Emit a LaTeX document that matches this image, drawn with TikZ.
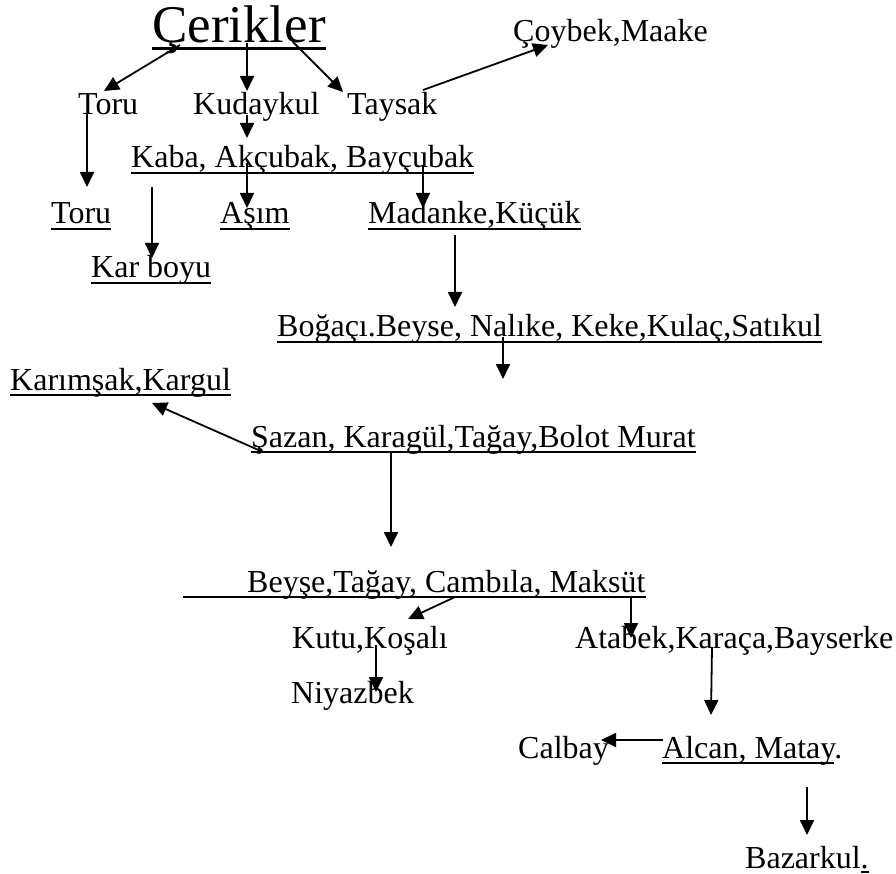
\documentclass[tikz,border=0pt]{standalone}
\usepackage{fontspec}
\setmainfont{Liberation Serif}
\usetikzlibrary{arrows.meta}
\begin{document}
\begin{tikzpicture}[x=1pt,y=-1pt,
  lbl/.style={anchor=base west,inner sep=0pt,font=\fontsize{32}{38}\selectfont},
  ttl/.style={anchor=base west,inner sep=0pt,font=\fontsize{53}{60}\selectfont},
  arr/.style={line width=1.8pt,-{Triangle[length=15pt,width=14pt]}},
  ul/.style={line width=2pt},
  ulw/.style={line width=3pt}]
\useasboundingbox (0,0) rectangle (896,874);

% nodes
\node[ttl] (cer) at (152,43) {Çerikler};
\node[lbl] (coy) at (513,42) {Çoybek,Maake};
\node[lbl] (toru1) at (78,115) {Toru};
\node[lbl] (kud) at (193,115) {Kudaykul};
\node[lbl] (tay) at (347,115) {Taysak};
\node[lbl] (kaba) at (131,168) {Kaba, Akçubak, Bayçubak};
\node[lbl] (toru2) at (51,224) {Toru};
\node[lbl] (asim) at (220,224) {Aşım};
\node[lbl] (mad) at (368,224) {Madanke,Küçük};
\node[lbl] (kar) at (91,278) {Kar boyu};
\node[lbl] (bog) at (277,337) {Boğaçı.Beyse, Nalıke, Keke,Kulaç,Satıkul};
\node[lbl] (karim) at (10,390) {Karımşak,Kargul};
\node[lbl] (saz) at (251,447) {Şazan, Karagül,Tağay,Bolot Murat};
\node[lbl] (bey) at (247,592) {Beyşe,Tağay, Cambıla, Maksüt};
\node[lbl] (kutu) at (292,648) {Kutu,Koşalı};
\node[lbl] (ata) at (575,648) {Atabek,Karaça,Bayserke};
\node[lbl] (niy) at (291,703) {Niyazbek};
\node[lbl] (cal) at (518,758) {Calbay};
\node[lbl] (alc) at (662,758) {Alcan, Matay.};
\node[lbl] (baz) at (745,868) {Bazarkul.};

% underlines
\draw[ulw] ([yshift=-6pt]cer.base west) -- ([yshift=-6pt]cer.base east);
\foreach \n in {kaba,toru2,asim,mad,kar,bog,karim,saz}
  \draw[ul] ([yshift=-5pt]\n.base west) -- ([yshift=-5pt]\n.base east);
\coordinate (beyul) at (183,597);
\draw[ul] (beyul) -- ([yshift=-5pt]bey.base east);
\draw[ul] ([yshift=-5pt]alc.base west) -- ([xshift=-8pt,yshift=-5pt]alc.base east);
\draw[ul] ([xshift=-8pt,yshift=-4pt]baz.base east) -- ([yshift=-4pt]baz.base east);

% arrow end points
\coordinate (s1) at (180,45);  \coordinate (e1) at (104,91);
\coordinate (s2) at (247,43);  \coordinate (e2) at (247,91);
\coordinate (s3) at (293,42);  \coordinate (e3) at (343,92);
\coordinate (s4) at (423,90);  \coordinate (e4) at (548,45);
\coordinate (s5) at (87,113);  \coordinate (e5) at (87,187);
\coordinate (s6) at (247,115); \coordinate (e6) at (247,138);
\coordinate (s7) at (247,163); \coordinate (e7) at (247,208);
\coordinate (s8) at (423,165); \coordinate (e8) at (423,208);
\coordinate (s9) at (152,187); \coordinate (e9) at (152,258);
\coordinate (s10) at (455,235); \coordinate (e10) at (455,307);
\coordinate (s11) at (503,337); \coordinate (e11) at (503,379);
\coordinate (s12) at (263,452); \coordinate (e12) at (152,403);
\coordinate (s13) at (391,452); \coordinate (e13) at (391,547);
\coordinate (s14) at (455,597); \coordinate (e14) at (408,619);
\coordinate (s15) at (631,597); \coordinate (e15) at (631,638);
\coordinate (s16) at (376,645); \coordinate (e16) at (376,692);
\coordinate (s17) at (712,647); \coordinate (e17) at (711,715);
\coordinate (s18) at (663,740); \coordinate (e18) at (601,740);
\coordinate (s19) at (807,787); \coordinate (e19) at (807,835);

\foreach \i in {1,...,19}
  \draw[arr] (s\i) -- (e\i);
\end{tikzpicture}
\end{document}
